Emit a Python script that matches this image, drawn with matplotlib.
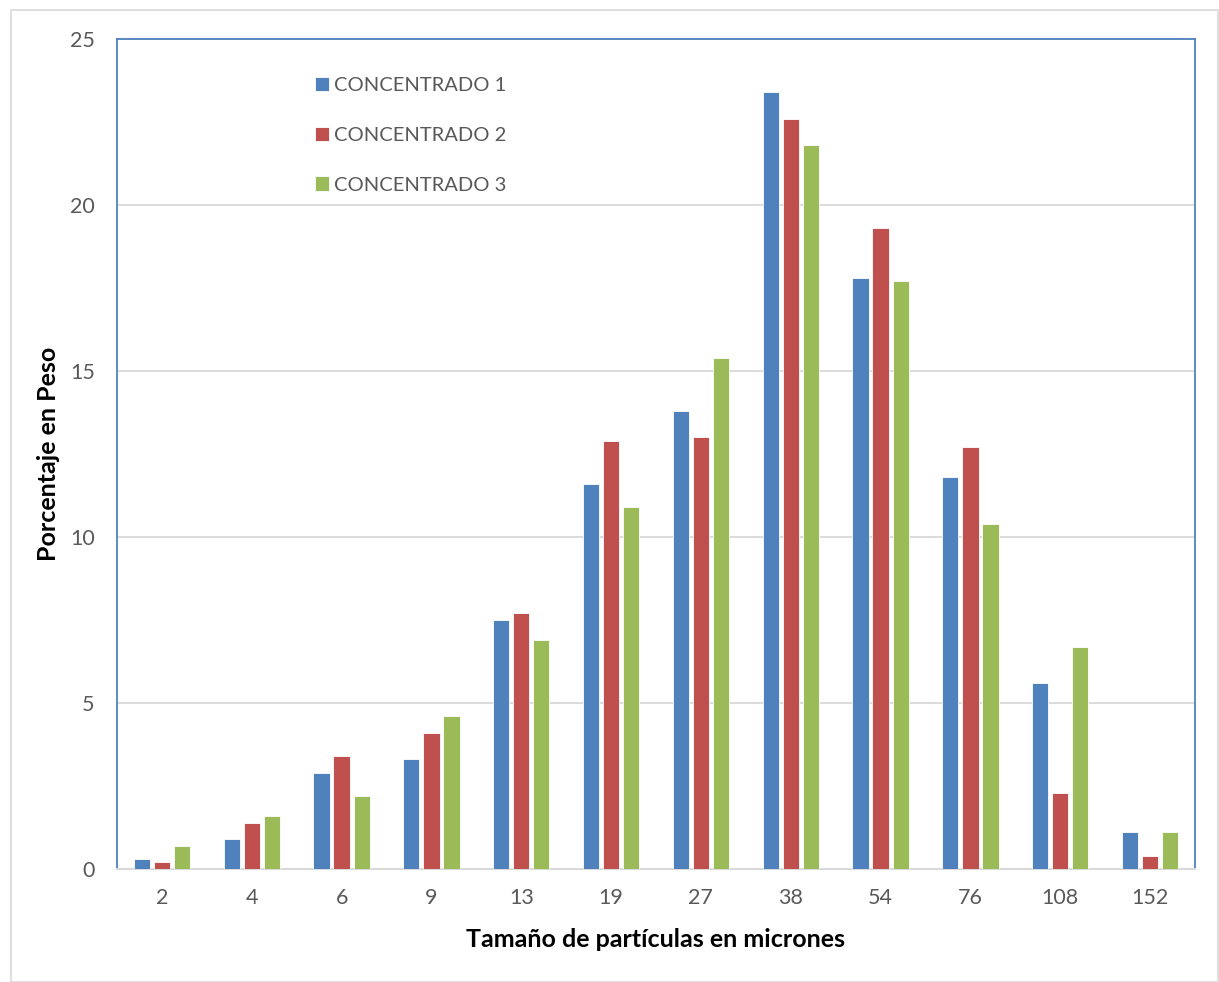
import matplotlib.pyplot as plt
import numpy as np
from matplotlib.patches import Rectangle

sizes = ["2", "4", "6", "9", "13", "19", "27", "38", "54", "76", "108", "152"]
conc_1 = [0.3, 0.9, 2.9, 3.3, 7.5, 11.6, 13.8, 23.4, 17.8, 11.8, 5.6, 1.1]
conc_2 = [0.2, 1.4, 3.4, 4.1, 7.7, 12.9, 13.0, 22.6, 19.3, 12.7, 2.3, 0.4]
conc_3 = [0.7, 1.6, 2.2, 4.6, 6.9, 10.9, 15.4, 21.8, 17.7, 10.4, 6.7, 1.1]

labels = ["CONCENTRADO 1", "CONCENTRADO 2", "CONCENTRADO 3"]
colors = ["#4F81BD", "#C0504D", "#9BBB59"]
text_color = "#595959"

plt.rcParams["font.family"] = ["Lato", "DejaVu Sans"]

fig = plt.figure(figsize=(12.19, 9.82), dpi=100)
W, H = 1219, 982
ax = fig.add_axes([117 / W, 1 - 869 / H, (1195 - 117) / W, (869 - 39) / H])

# outer chart border
fig.patches.append(Rectangle((11 / W, 0), 1 - 11 / W - 1 / W, 1 - 10 / H,
                             transform=fig.transFigure, fill=False,
                             edgecolor="#D9D9D9", linewidth=1.2))

x = np.arange(len(sizes))
width = 0.18
step = 0.223
for i, (vals, lab, col) in enumerate(zip([conc_1, conc_2, conc_3], labels, colors)):
    ax.bar(x + (i - 1) * step, vals, width, color=col, label=lab,
           edgecolor="white", linewidth=0.6, zorder=3)

ax.set_xlim(-0.5, len(sizes) - 0.5)
ax.set_ylim(0, 25)
ax.set_yticks([0, 5, 10, 15, 20, 25])
ax.set_xticks(x)
ax.set_xticklabels(sizes)
ax.yaxis.grid(True, color="#D9D9D9", linewidth=1.3, zorder=0)
ax.set_axisbelow(True)

for s in ["left", "top", "right"]:
    ax.spines[s].set_color("#4F81BD")
    ax.spines[s].set_linewidth(1.3)
ax.spines["bottom"].set_color("#D9D9D9")
ax.spines["bottom"].set_linewidth(1.5)

ax.tick_params(axis="both", length=0, labelsize=15.5, colors=text_color)
ax.tick_params(axis="x", pad=14)
ax.tick_params(axis="y", pad=16)

ax.set_xlabel("Tamaño de partículas en micrones", fontsize=18, fontweight="bold",
              color="black", labelpad=14)
ax.set_ylabel("Porcentaje en Peso", fontsize=18, fontweight="bold",
              color="black", labelpad=7)

leg = ax.legend(loc="upper left", bbox_to_anchor=(0.167, 0.976), frameon=False,
                fontsize=14.5, labelspacing=1.62, handlelength=0.7,
                handleheight=0.7, handletextpad=0.25)
for t in leg.get_texts():
    t.set_color(text_color)

plt.savefig("out.png", dpi=100)
